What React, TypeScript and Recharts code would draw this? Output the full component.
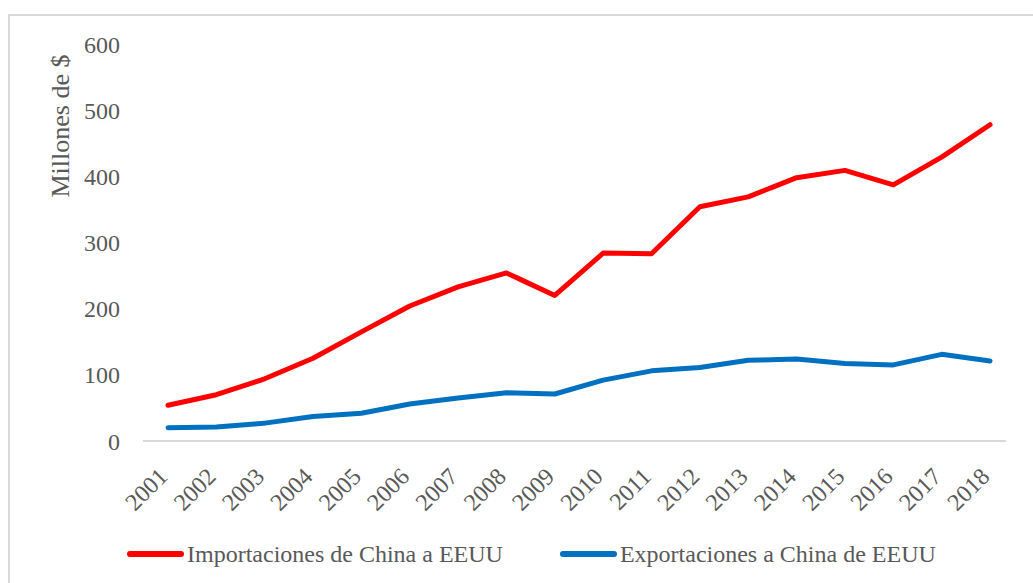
import React from "react"
import { LineChart, Line, XAxis, YAxis, Legend, Label } from "recharts"

const anios = [
  "2001", "2002", "2003", "2004", "2005", "2006", "2007", "2008", "2009",
  "2010", "2011", "2012", "2013", "2014", "2015", "2016", "2017", "2018",
]
// Millones de $
const importaciones = [54, 70, 94, 125, 165, 204, 233, 254, 220, 284, 283, 354, 369, 398, 409, 387, 429, 478]
const exportaciones = [20, 21, 27, 37, 42, 56, 65, 73, 71, 92, 106, 111, 122, 124, 117, 115, 131, 121]
const ticksY = [0, 100, 200, 300, 400, 500, 600]

const SERIES = [
  { key: "imp", nombre: "Importaciones de China a EEUU", color: "#FF0000" },
  { key: "exp", nombre: "Exportaciones a China de EEUU", color: "#0070C0" },
]

const FUENTE = "'Liberation Serif', 'Times New Roman', serif"
const GRIS = "#595959"

const datos = anios.map((anio, i) => ({
  anio,
  imp: importaciones[i],
  exp: exportaciones[i],
}))

// etiqueta del eje X girada 45°
const TickAnio = (props: any) => {
  const { x, y, payload } = props
  const px = x + 1
  const py = y + 37
  return (
    <text
      x={px}
      y={py}
      textAnchor="end"
      transform={`rotate(-45 ${px} ${py})`}
      fill={GRIS}
      fontSize={24}
      fontFamily={FUENTE}
    >
      {payload.value}
    </text>
  )
}

const TituloY = (props: any) => {
  const vb = props.viewBox
  const x = vb.x - 4
  const y = vb.y + 82
  return (
    <text
      x={x}
      y={y}
      textAnchor="middle"
      transform={`rotate(-90 ${x} ${y})`}
      fill={GRIS}
      fontSize={26}
      fontFamily={FUENTE}
    >
      Millones de $
    </text>
  )
}

const renderLeyenda = () => (
  <div style={{ display: "flex", alignItems: "center", gap: 57, fontFamily: FUENTE }}>
    {SERIES.map((s) => (
      <span key={s.key} style={{ display: "flex", alignItems: "center", gap: 3 }}>
        <span
          style={{
            width: 57,
            height: 6,
            borderRadius: 3,
            backgroundColor: s.color,
            display: "inline-block",
          }}
        />
        <span style={{ fontSize: 24, color: GRIS, lineHeight: "28px", whiteSpace: "nowrap" }}>
          {s.nombre}
        </span>
      </span>
    ))}
  </div>
)

export default function App() {
  return (
    <div
      style={{
        position: "fixed",
        left: 8,
        top: 14,
        width: 1025,
        height: 569,
        borderTop: "2px solid #d9d9d9",
        borderLeft: "2px solid #d9d9d9",
        background: "#fff",
        boxSizing: "border-box",
      }}
    >
      <LineChart
        width={1023}
        height={567}
        data={datos}
        margin={{ top: 28, right: 27, bottom: 62, left: 63 }}
      >
        <XAxis
          dataKey="anio"
          interval={0}
          height={80}
          padding={{ left: 25, right: 16 }}
          axisLine={{ stroke: "#d9d9d9", strokeWidth: 2 }}
          tickLine={false}
          tickSize={0}
          tickMargin={0}
          tick={<TickAnio />}
        />
        <YAxis
          width={70}
          domain={[0, 600]}
          ticks={ticksY}
          interval={0}
          axisLine={false}
          tickLine={false}
          tickSize={0}
          tickMargin={23}
          tick={{ fill: GRIS, fontSize: 24, fontFamily: FUENTE }}
        >
          <Label content={<TituloY />} />
        </YAxis>
        <Legend
          layout="vertical"
          align="center"
          verticalAlign="middle"
          wrapperStyle={{ top: 524, left: 117, width: "auto" }}
          content={renderLeyenda}
        />
        {SERIES.map((s) => (
          <Line
            key={s.key}
            type="linear"
            dataKey={s.key}
            name={s.nombre}
            stroke={s.color}
            strokeWidth={5}
            strokeLinecap="round"
            strokeLinejoin="round"
            dot={false}
            activeDot={false}
            isAnimationActive={false}
          />
        ))}
      </LineChart>
    </div>
  )
}
